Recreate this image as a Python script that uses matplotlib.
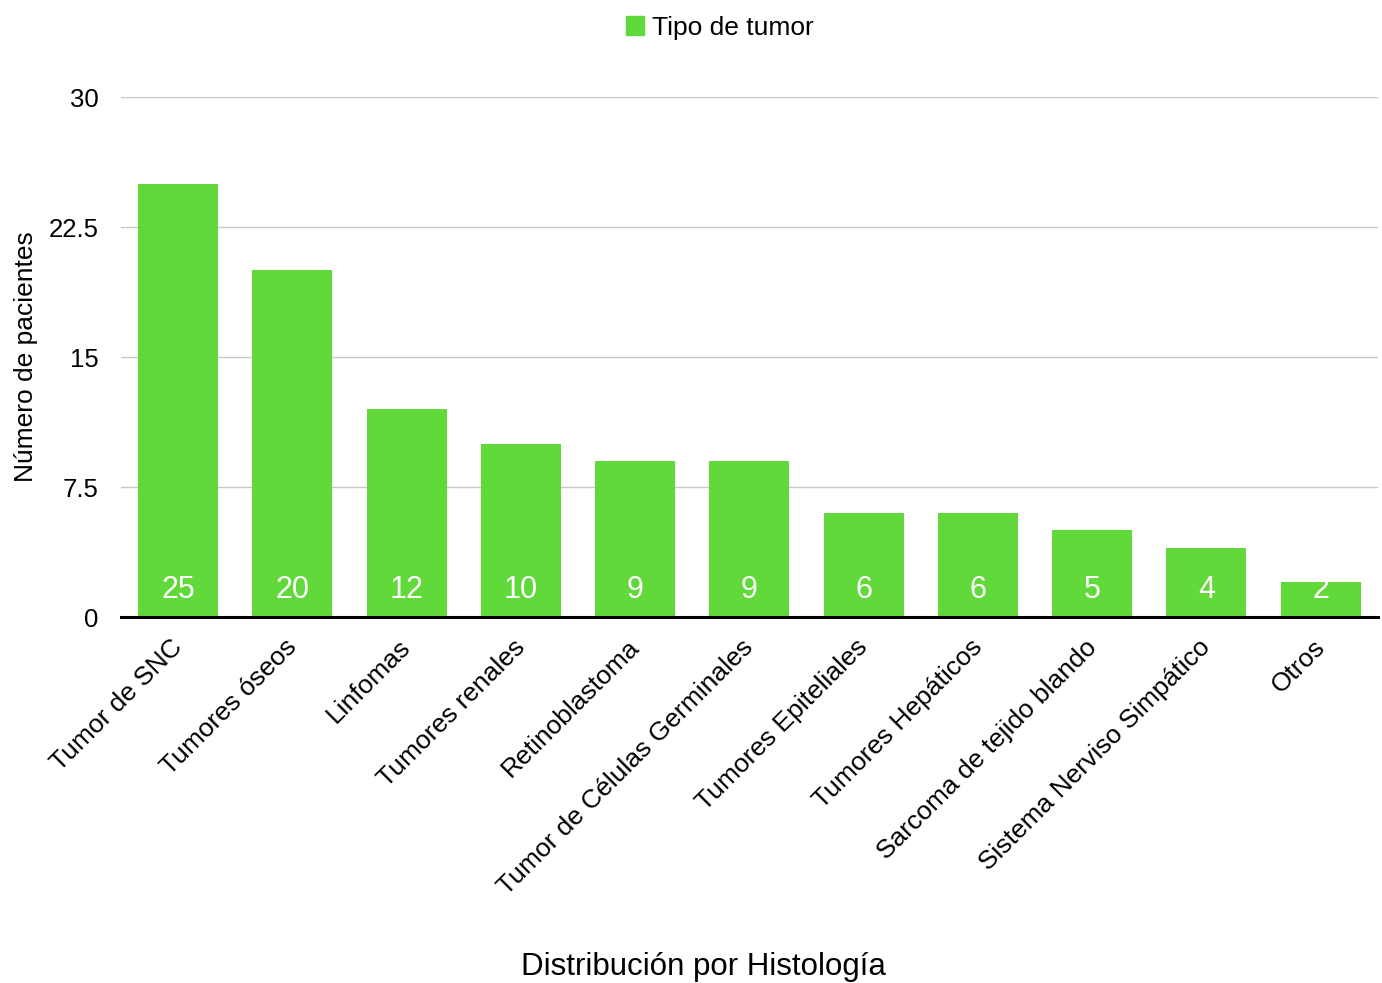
import matplotlib.pyplot as plt
from matplotlib.patches import Patch
from matplotlib.transforms import ScaledTranslation

categorias = ['Tumor de SNC', 'Tumores óseos', 'Linfomas', 'Tumores renales',
              'Retinoblastoma', 'Tumor de Células Germinales', 'Tumores Epiteliales',
              'Tumores Hepáticos', 'Sarcoma de tejido blando',
              'Sistema Nerviso Simpático', 'Otros']
pacientes = [25, 20, 12, 10, 9, 9, 6, 6, 5, 4, 2]
yticks = [0, 7.5, 15, 22.5, 30]
yticklabels = ['0', '7.5', '15', '22.5', '30']

verde = '#62d93a'
plt.rcParams['font.family'] = ['Liberation Sans', 'DejaVu Sans']

fig = plt.figure(figsize=(13.82, 9.83), dpi=100)
ax = fig.add_axes([0.0876, 0.3723, 0.9094, 0.529])

x = range(len(categorias))
bars = ax.bar(x, pacientes, width=0.7, color=verde, zorder=2)

# etiquetas de valor dentro de cada barra, recortadas por la barra
for b, v in zip(bars, pacientes):
    t = ax.text(b.get_x() + b.get_width() / 2, 1.1, str(v), ha='center', va='baseline',
                color='white', fontsize=22, zorder=3)
    t.set_clip_path(b)

ax.set_xlim(-0.5, len(categorias) - 0.5)
ax.set_ylim(0, 30)
ax.set_yticks(yticks)
ax.set_yticklabels(yticklabels, fontsize=18.5)
ax.yaxis.grid(True, color='#c8c8c8', linewidth=1)
ax.set_axisbelow(True)
ax.tick_params(axis='y', length=0, pad=16)
ax.tick_params(axis='x', length=0, pad=13)
ax.set_xticks(list(x))
ax.set_xticklabels(categorias, rotation=45, ha='right', rotation_mode='anchor', fontsize=19)

# desplazar un poco las etiquetas giradas hacia la izquierda
offset = ScaledTranslation(-8 / 100, 0, fig.dpi_scale_trans)
for lbl in ax.get_xticklabels():
    lbl.set_transform(lbl.get_transform() + offset)

for s in ['top', 'right', 'left']:
    ax.spines[s].set_visible(False)
ax.spines['bottom'].set_linewidth(2.2)
ax.spines['bottom'].set_zorder(4)

ax.set_ylabel('Número de pacientes', fontsize=19)
ax.yaxis.set_label_coords(-0.066, 0.5)
fig.text(0.509, 0.008, 'Distribución por Histología', ha='center', fontsize=22.5)

fig.legend(handles=[Patch(color=verde, label='Tipo de tumor')], loc='upper center',
           bbox_to_anchor=(0.521, 1.008), frameon=False, fontsize=19,
           handlelength=0.7, handleheight=0.7, handletextpad=0.3)

fig.savefig('out.png', dpi=100)
